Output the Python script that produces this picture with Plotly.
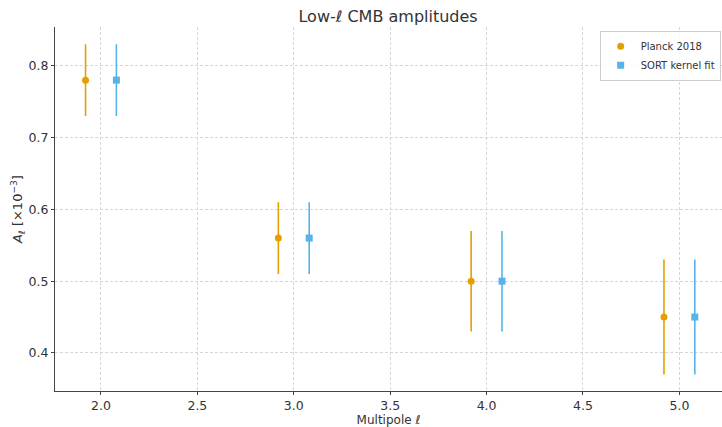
import plotly.graph_objects as go

# Low-multipole CMB amplitudes (units of 1e-3)
ell = [2, 3, 4, 5]
planck_amp = [0.78, 0.56, 0.50, 0.45]
planck_err = [0.05, 0.05, 0.07, 0.08]
sort_amp = [0.78, 0.56, 0.50, 0.45]
sort_err = [0.05, 0.05, 0.07, 0.08]
offset = 0.08

ORANGE = "#E69F00"
BLUE = "#56B4E9"

fig = go.Figure()
fig.add_trace(go.Scatter(
    x=[l - offset for l in ell], y=planck_amp, mode="markers", name="Planck 2018",
    marker=dict(symbol="circle", size=7, color=ORANGE),
    error_y=dict(type="data", array=planck_err, visible=True, color=ORANGE,
                 thickness=1.6, width=0),
))
fig.add_trace(go.Scatter(
    x=[l + offset for l in ell], y=sort_amp, mode="markers", name="SORT kernel fit",
    marker=dict(symbol="square", size=7, color=BLUE),
    error_y=dict(type="data", array=sort_err, visible=True, color=BLUE,
                 thickness=1.6, width=0),
))

axis_common = dict(
    showgrid=True, gridcolor="#d6d6d6", griddash="3px,2px", gridwidth=0.8,
    showline=True, linecolor="#444444", linewidth=1.2,
    ticks="outside", ticklen=3, tickcolor="#444444",
    tickfont=dict(size=12.5, color="#333333"), zeroline=False,
)

fig.update_layout(
    width=722, height=427,
    margin=dict(l=55, r=0, t=27, b=34),
    paper_bgcolor="white", plot_bgcolor="white",
    font=dict(family="DejaVu Sans", color="#333333"),
    title=dict(text="Low-ℓ CMB amplitudes", x=0.5375, xanchor="center",
               y=0.962, yanchor="middle", font=dict(size=16, color="#333333")),
    xaxis=dict(range=[1.7616, 5.221], tickvals=[2.0, 2.5, 3.0, 3.5, 4.0, 4.5, 5.0],
               ticktext=["2.0", "2.5", "3.0", "3.5", "4.0", "4.5", "5.0"],
               title=dict(text="Multipole ℓ", font=dict(size=12), standoff=6),
               **axis_common),
    yaxis=dict(range=[0.347, 0.854], tickvals=[0.4, 0.5, 0.6, 0.7, 0.8],
               ticktext=["0.4", "0.5", "0.6", "0.7", "0.8"],
               title=dict(text="<i>A</i><sub><i>ℓ</i></sub> [×10<sup>−3</sup>]",
                          font=dict(size=13), standoff=2),
               **axis_common),
    legend=dict(x=0.998, y=0.99, xanchor="right", yanchor="top",
                bgcolor="rgba(255,255,255,0.8)", bordercolor="#cccccc", borderwidth=1,
                font=dict(size=10, color="#333333"), tracegroupgap=0,
                itemwidth=30),
    showlegend=True,
)

fig.write_html("out.html")
